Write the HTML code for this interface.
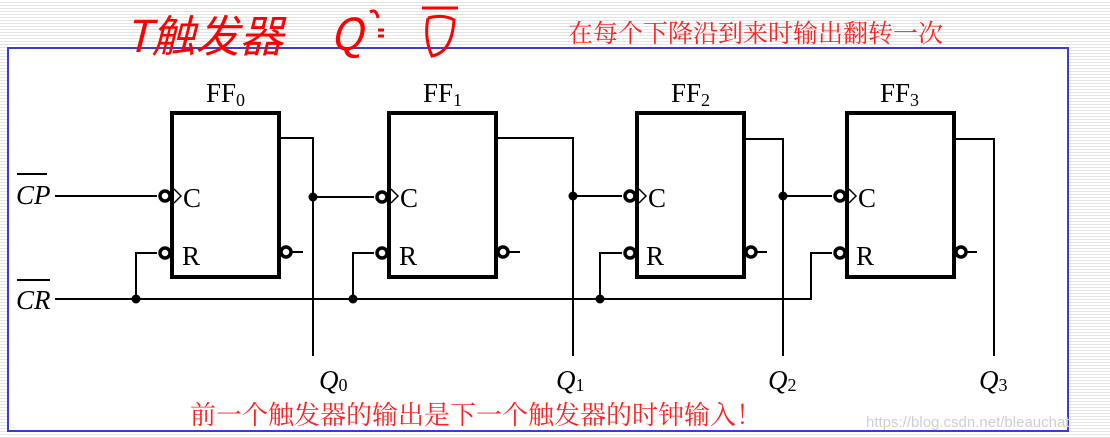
<!DOCTYPE html>
<html><head><meta charset="utf-8"><style>
html,body{margin:0;padding:0;}
body{width:1110px;height:438px;overflow:hidden;background:repeating-linear-gradient(to bottom,#ffffff 0px,#ffffff 2px,#e4e4e4 2px,#e4e4e4 3px);}
svg{position:absolute;left:0;top:0;}
</style></head><body>
<svg width="1110" height="438" viewBox="0 0 1110 438" xmlns="http://www.w3.org/2000/svg">
<rect x="8" y="48" width="1060" height="383" fill="#fff" stroke="#3b3bd8" stroke-width="2"/>
<g font-family="Liberation Serif, serif" fill="#000">
<g fill="none" stroke="#000" stroke-width="4">
<rect x="172" y="113" width="107" height="164"/>
<rect x="389" y="113" width="107" height="164"/>
<rect x="637" y="113" width="107" height="164"/>
<rect x="847" y="113" width="107" height="164"/>
</g>
<g fill="none" stroke="#000" stroke-width="2">
<polyline points="281,138 313,138 313,356"/>
<polyline points="498,138 573,138 573,356"/>
<polyline points="746,139 783,139 783,356"/>
<polyline points="956,139 994,139 994,356"/>
<line x1="55" y1="196" x2="157" y2="196"/>
<line x1="313" y1="197" x2="374" y2="197"/>
<line x1="573" y1="196" x2="622" y2="196"/>
<line x1="783" y1="196" x2="832" y2="196"/>
<polyline points="55,299 811,299 811,253 832,253"/>
<polyline points="136,299 136,253 157,253"/>
<polyline points="353,299 353,253 374,253"/>
<polyline points="600,299 600,253 622,253"/>
<line x1="290" y1="252" x2="303" y2="252"/>
<line x1="507" y1="252" x2="520" y2="252"/>
<line x1="755" y1="252" x2="767" y2="252"/>
<line x1="965" y1="252" x2="977" y2="252"/>
<polyline points="174,189 181,196 174,203" stroke-width="1.5"/>
<polyline points="391,189 398,196 391,203" stroke-width="1.5"/>
<polyline points="639,189 646,196 639,203" stroke-width="1.5"/>
<polyline points="849,189 856,196 849,203" stroke-width="1.5"/>
</g>
<g fill="#fff" stroke="#000" stroke-width="3.5">
<circle cx="165" cy="196" r="5"/><circle cx="165" cy="253" r="5"/><circle cx="286" cy="252" r="5"/>
<circle cx="382" cy="197" r="5"/><circle cx="382" cy="253" r="5"/><circle cx="503" cy="252" r="5"/>
<circle cx="630" cy="196" r="5"/><circle cx="630" cy="253" r="5"/><circle cx="751" cy="252" r="5"/>
<circle cx="840" cy="196" r="5"/><circle cx="840" cy="253" r="5"/><circle cx="961" cy="252" r="5"/>
</g>
<g>
<circle cx="313" cy="197" r="4.5"/><circle cx="573" cy="196" r="4.5"/><circle cx="783" cy="196" r="4.5"/>
<circle cx="136" cy="299" r="4.5"/><circle cx="353" cy="299" r="4.5"/><circle cx="600" cy="299" r="4.5"/>
</g>
<g font-size="27">
<text x="206" y="102">FF<tspan font-size="18" dy="4">0</tspan></text>
<text x="423" y="102">FF<tspan font-size="18" dy="4">1</tspan></text>
<text x="671" y="102">FF<tspan font-size="18" dy="4">2</tspan></text>
<text x="880" y="102">FF<tspan font-size="18" dy="4">3</tspan></text>
<text x="183" y="207">C</text><text x="400" y="207">C</text><text x="648" y="207">C</text><text x="858" y="207">C</text>
<text x="182" y="265">R</text><text x="399" y="265">R</text><text x="646" y="265">R</text><text x="856" y="265">R</text>
<g font-style="italic">
<text x="16" y="204">CP</text><text x="16" y="309">CR</text>
<text x="319" y="389">Q<tspan font-style="normal" font-size="18" dy="2">0</tspan></text>
<text x="556" y="389">Q<tspan font-style="normal" font-size="18" dy="2">1</tspan></text>
<text x="768" y="389">Q<tspan font-style="normal" font-size="18" dy="2">2</tspan></text>
<text x="979" y="389">Q<tspan font-style="normal" font-size="18" dy="2">3</tspan></text>
</g>
</g>
<line x1="17" y1="174" x2="47" y2="174" stroke="#000" stroke-width="2"/>
<line x1="17" y1="280" x2="50" y2="280" stroke="#000" stroke-width="2"/>
</g>
<g font-family="Liberation Serif, 'Noto Serif CJK SC', serif" fill="#ff2020" font-size="25">
<text x="568" y="42">在每个下降沿到来时输出翻转一次</text>
<text x="190" y="424" font-size="26">前一个触发器的输出是下一个触发器的时钟输入！</text>
</g>
<g font-family="'Noto Sans CJK SC', sans-serif" fill="#ff0000" font-size="44" font-style="italic">
<text x="125" y="52">T触发器</text>
<text x="330" y="50">Q</text>
</g>
<g fill="none" stroke="#ff0000" stroke-width="3">
<path d="M370 12 q6 -4 8 6 M378 30 l6 0 M378 36 l6 0"/>
<path d="M422 8 h36 M428 18 q-4 20 4 38 q20 -4 22 -36 q-10 -6 -26 -2"/>
</g>
<text x="866" y="427" font-family="Liberation Sans, sans-serif" font-size="15" fill="#cfcfcf">https://blog.csdn.net/bleauchat</text>
</svg>
</body></html>
